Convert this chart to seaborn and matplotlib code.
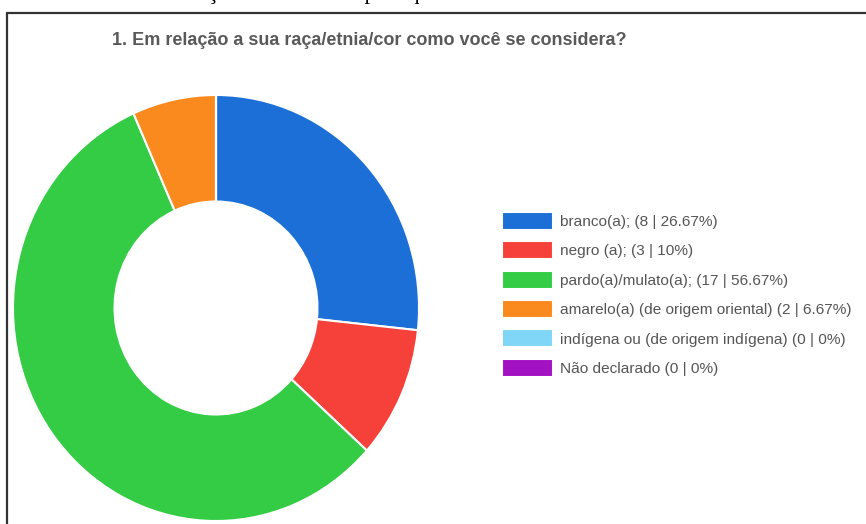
import matplotlib
matplotlib.use('Agg')
import matplotlib.pyplot as plt
import seaborn as sns

# survey answers (count per category)
categories = ["branco(a);", "negro (a);", "pardo(a)/mulato(a);",
              "amarelo(a) (de origem oriental)",
              "indígena ou (de origem indígena)", "Não declarado"]
counts = [8, 3, 17, 2, 0, 0]
percent_labels = ["26.67%", "10%", "56.67%", "6.67%", "0%", "0%"]
colors = ["#1b6fd6", "#f5413a", "#33cc44", "#fb8a1e", "#80d6f6", "#a212c2"]

title = "1. Em relação a sua raça/etnia/cor como você se considera?"
caption = "Gráfico 3 – Relação com a escola para que você usa na área de conhecimento"

sns.set_style("white")
plt.rcParams['font.family'] = ['Liberation Sans', 'DejaVu Sans']

fig = plt.figure(figsize=(8.66, 5.24), dpi=100)
W, H = 866, 524

# caption of the page above the chart, cropped like in the screenshot
fig.text(60 / W, 1 + 1 / H, caption, family=['Liberation Serif', 'DejaVu Serif'],
         fontsize=16, va='baseline', ha='left', color='black')

# frame of the screenshot
fig.add_artist(plt.Line2D([7.5 / W, 1.0], [1 - 12.5 / H, 1 - 12.5 / H],
                          color='#333333', lw=1.6))
fig.add_artist(plt.Line2D([7.5 / W, 7.5 / W], [0, 1 - 12.5 / H],
                          color='#333333', lw=1.6))

fig.text(112 / W, 1 - 45 / H, title, fontsize=13, fontweight='bold',
         color='#595959', va='baseline', ha='left')

ax = fig.add_axes([13 / W, 3 / H, 406 / W, 426 / H])
wedges, _ = ax.pie(counts, colors=colors, startangle=90, counterclock=False,
                   wedgeprops=dict(width=0.5, edgecolor='white', linewidth=1.5))
ax.set_aspect('auto')
ax.set_xlim(-1, 1)
ax.set_ylim(-1, 1)
ax.axis('off')

labels = [f"{c} ({n} | {p})" for c, n, p in zip(categories, counts, percent_labels)]
leg = fig.legend(wedges, labels, loc='upper left',
                 bbox_to_anchor=(502 / W, 1 - 212 / H), frameon=False,
                 fontsize=11.1, handlelength=3.3, handleheight=1.4,
                 handletextpad=0.45, labelspacing=0.75, borderpad=0,
                 borderaxespad=0)
for t in leg.get_texts():
    t.set_color('#555555')

plt.savefig("out.png", dpi=100)
plt.close()
